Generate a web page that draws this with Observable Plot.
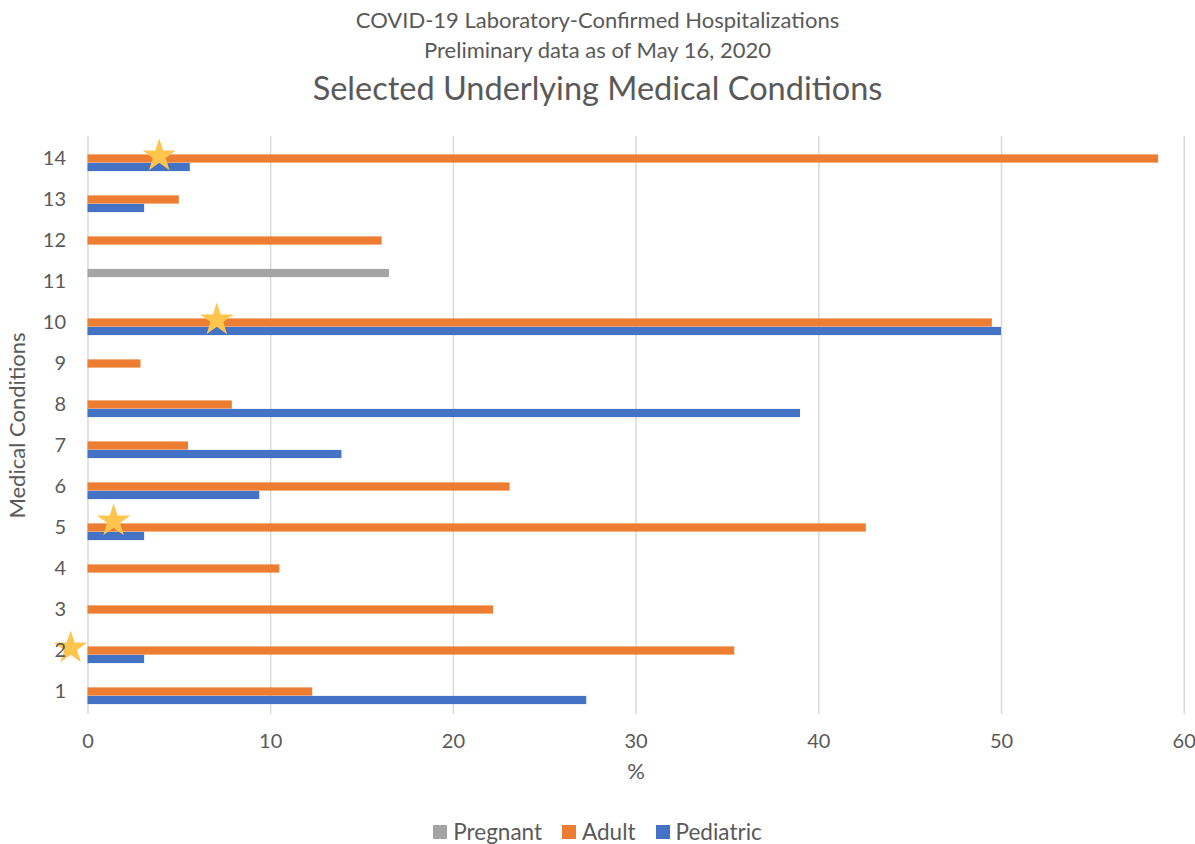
<!DOCTYPE html>
<html><head><meta charset="utf-8">
<script src="https://cdn.jsdelivr.net/npm/d3@7"></script>
<script src="https://cdn.jsdelivr.net/npm/@observablehq/plot@0.6"></script>
<style>
html,body{margin:0;padding:0;background:#fff;}
body{width:1195px;height:844px;overflow:hidden;font-family:Lato,"Open Sans",sans-serif;color:#595959;}
#header{position:relative;height:110px;}
.t{position:absolute;left:0;width:1195px;text-align:center;white-space:nowrap;}
#t1{top:7px;font-size:22px;line-height:26px;}
#t2{top:37px;font-size:22px;line-height:26px;}
#t3{top:69px;font-size:32.5px;line-height:38px;}
#chart svg{display:block;}
#chart [aria-label="y-axis tick label"], #chart [aria-label="x-axis tick label"]{font-size:20px;}
#chart [aria-label="y-axis label"], #chart [aria-label="x-axis label"]{font-size:22px;}
#legend{height:54px;display:flex;justify-content:center;align-items:flex-start;padding-top:29px;box-sizing:border-box;}
.item{display:flex;align-items:center;margin:0 10px;font-size:22.5px;line-height:26px;}
.sw{width:14px;height:14px;margin-right:6px;}
</style>
</head><body>
<div id="header">
  <div class="t" id="t1">COVID-19 Laboratory-Confirmed Hospitalizations</div>
  <div class="t" id="t2">Preliminary data as of May 16, 2020</div>
  <div class="t" id="t3">Selected Underlying Medical Conditions</div>
</div>
<div id="chart"></div>
<div id="legend"></div>
<script>
const conditions = [1,2,3,4,5,6,7,8,9,10,11,12,13,14];
const pregnant  = [null,null,null,null,null,null,null,null,null,null,16.5,null,null,null];
const adult     = [12.3,35.4,22.2,10.5,42.6,23.1,5.5,7.9,2.9,49.5,null,16.1,5.0,58.6];
const pediatric = [27.3,3.1,null,null,3.1,9.4,13.9,39.0,null,50.0,null,null,3.1,5.6];
const seriesNames = ["Pregnant","Adult","Pediatric"];
const seriesColors = ["#A5A5A5","#ED7D31","#4472C4"];
const xTicks = [0,10,20,30,40,50,60];
const starConditions = [14,10,5,2];
const starValues = [3.9,7.05,1.4,-0.95];

const seriesValues = [pregnant, adult, pediatric];
const rows = [];
seriesNames.forEach((s, i) => {
  conditions.forEach((c, j) => {
    const v = seriesValues[i][j];
    if (v != null) rows.push({condition: c, series: s, value: v});
  });
});
const stars = starConditions.map((c, i) => ({condition: c, value: starValues[i]}));

const barThickness = 8.5;
const step = 578 / conditions.length;
const inset = (step - barThickness) / 2;

const chart = Plot.plot({
  width: 1195,
  height: 680,
  marginLeft: 87.5,
  marginRight: 11.3,
  marginTop: 26,
  marginBottom: 76,
  style: {fontFamily: "Lato, 'Open Sans', sans-serif", fontSize: "20px", color: "#595959", background: "#fff", overflow: "visible"},
  x: {domain: [0, 60]},
  y: {domain: conditions.slice().reverse(), padding: 0},
  color: {domain: seriesNames, range: seriesColors},
  marks: [
    Plot.ruleX(xTicks, {stroke: "#D9D9D9", strokeWidth: 1.5}),
    ...seriesNames.map((s, i) => Plot.barX(rows.filter(d => d.series === s), {
      y: "condition", x: "value", fill: "series",
      insetTop: inset, insetBottom: inset, dy: (i - 1) * barThickness
    })),
    Plot.dot(stars.filter(d => d.condition !== 5), {x: "value", y: "condition", symbol: "star", r: 10.5, fill: "#FFC54D", stroke: "none", dy: -3}),
    Plot.dot(stars.filter(d => d.condition === 5), {x: "value", y: "condition", symbol: "star", r: 10.5, fill: "#FFC54D", stroke: "none", dy: -7}),
    Plot.axisX({ticks: xTicks, tickSize: 0, tickPadding: 19, label: "%", labelAnchor: "center", labelArrow: "none", labelOffset: 64}),
    Plot.axisY({tickSize: 0, tickPadding: 22, label: "Medical Conditions", labelAnchor: "center", labelArrow: "none", labelOffset: 79})
  ]
});
document.getElementById("chart").appendChild(chart);

const legend = document.getElementById("legend");
seriesNames.forEach((s, i) => {
  const item = document.createElement("div");
  item.className = "item";
  const sw = document.createElement("span");
  sw.className = "sw";
  sw.style.background = seriesColors[i];
  const lab = document.createElement("span");
  lab.textContent = s;
  item.appendChild(sw); item.appendChild(lab);
  legend.appendChild(item);
});
</script>
</body></html>
